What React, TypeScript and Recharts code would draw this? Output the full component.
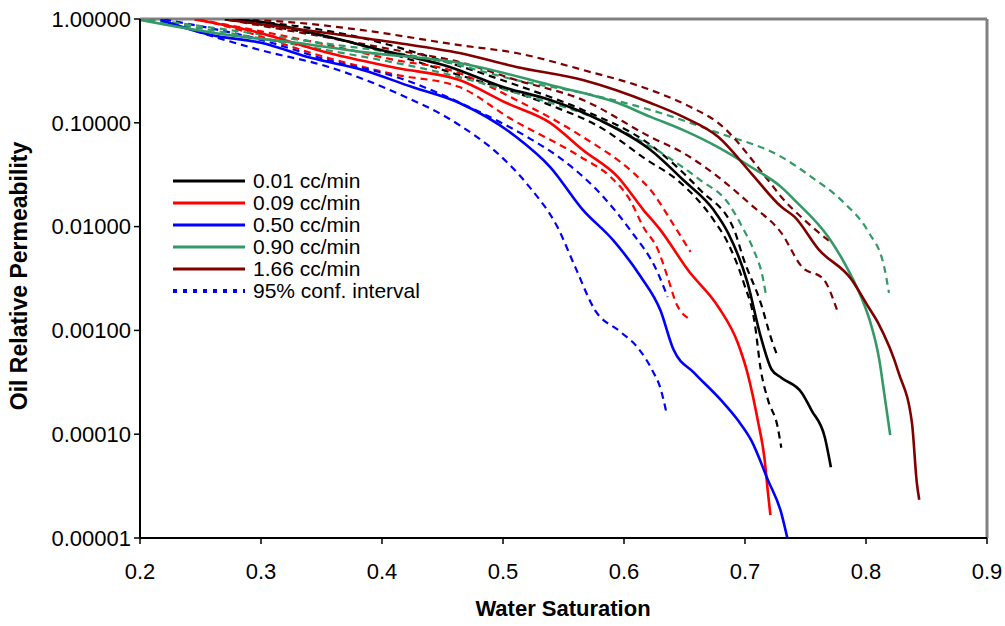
import React from 'react';
import { LineChart, Line, XAxis, YAxis, ReferenceLine, Legend } from 'recharts';

// ---------- axis ticks ----------
const xTicks = [0.2, 0.3, 0.4, 0.5, 0.6, 0.7, 0.8, 0.9];
const yTicks = [1, 0.1, 0.01, 0.001, 0.0001, 0.00001];

// ---------- labels ----------
const rateLabels = ['0.01 cc/min', '0.09 cc/min', '0.50 cc/min', '0.90 cc/min', '1.66 cc/min'];
const ciLabel = '95% conf. interval';
const rateColors = ['#000000', '#FF0000', '#0000FF', '#339966', '#800000'];

// ---------- series: [water saturation, oil relative permeability] ----------
const kr001 = [[0.27, 0.99], [0.30, 0.935], [0.35, 0.70], [0.40, 0.50], [0.456, 0.345], [0.50, 0.221], [0.539, 0.166], [0.58, 0.106], [0.622, 0.0547], [0.649, 0.0281], [0.674, 0.0145], [0.686, 0.0087], [0.702, 0.0029], [0.713, 0.00087], [0.722, 0.00042], [0.730, 0.00035], [0.747, 0.00025], [0.755, 0.00017], [0.766, 0.000093], [0.771, 0.000048]];
const kr001Lo = [[0.276, 0.98], [0.373, 0.60], [0.456, 0.308], [0.539, 0.148], [0.58, 0.091], [0.619, 0.0438], [0.644, 0.0281], [0.674, 0.0116], [0.686, 0.0069], [0.699, 0.00286], [0.708, 0.00118], [0.713, 0.00042], [0.719, 0.000214], [0.727, 0.000117], [0.730, 0.000074]];
const kr001Hi = [[0.276, 1.0], [0.373, 0.70], [0.456, 0.377], [0.511, 0.231], [0.566, 0.133], [0.622, 0.061], [0.663, 0.0225], [0.691, 0.0093], [0.699, 0.0048], [0.713, 0.00184], [0.722, 0.00081], [0.726, 0.0006]];

const kr009 = [[0.245, 0.99], [0.29, 0.78], [0.356, 0.47], [0.412, 0.337], [0.464, 0.258], [0.503, 0.155], [0.539, 0.10], [0.566, 0.0547], [0.595, 0.030], [0.616, 0.0145], [0.630, 0.0093], [0.653, 0.0038], [0.678, 0.00168], [0.694, 0.00076], [0.702, 0.00039], [0.711, 0.000128], [0.716, 0.00006], [0.719, 0.000027], [0.721, 0.0000166]];
const kr009Lo = [[0.25, 0.98], [0.273, 0.84], [0.356, 0.42], [0.412, 0.29], [0.464, 0.221], [0.506, 0.11], [0.564, 0.047], [0.589, 0.030], [0.605, 0.018], [0.616, 0.0099], [0.628, 0.006], [0.636, 0.00327], [0.643, 0.00184], [0.653, 0.00131]];
const kr009Hi = [[0.248, 0.99], [0.356, 0.56], [0.412, 0.40], [0.456, 0.323], [0.511, 0.166], [0.566, 0.073], [0.608, 0.0328], [0.622, 0.0225], [0.641, 0.0104], [0.655, 0.0057]];

const kr050 = [[0.217, 0.98], [0.259, 0.70], [0.30, 0.59], [0.342, 0.42], [0.384, 0.323], [0.425, 0.221], [0.464, 0.155], [0.511, 0.073], [0.539, 0.0375], [0.566, 0.0145], [0.591, 0.0074], [0.614, 0.00327], [0.630, 0.00157], [0.641, 0.00065], [0.658, 0.00039], [0.680, 0.000214], [0.694, 0.000137], [0.705, 0.000088], [0.719, 0.0000361], [0.730, 0.0000174], [0.735, 0.00001]];
const kr050Lo = [[0.217, 0.98], [0.30, 0.50], [0.356, 0.345], [0.412, 0.194], [0.464, 0.095], [0.497, 0.049], [0.522, 0.024], [0.545, 0.0099], [0.56, 0.004], [0.576, 0.00157], [0.597, 0.00097], [0.611, 0.00069], [0.624, 0.0004], [0.63, 0.00028], [0.635, 0.000163]];
const kr050Hi = [[0.22, 0.99], [0.30, 0.63], [0.356, 0.40], [0.412, 0.276], [0.472, 0.142], [0.52, 0.073], [0.547, 0.046], [0.583, 0.0193], [0.605, 0.0093], [0.628, 0.00357], [0.636, 0.0021]];

const kr090 = [[0.20, 0.98], [0.273, 0.70], [0.329, 0.59], [0.384, 0.48], [0.464, 0.377], [0.539, 0.231], [0.595, 0.155], [0.622, 0.114], [0.649, 0.085], [0.678, 0.058], [0.705, 0.0375], [0.730, 0.024], [0.741, 0.018], [0.769, 0.0079], [0.782, 0.0045], [0.796, 0.0021], [0.803, 0.00126], [0.811, 0.00052], [0.815, 0.00025], [0.82, 0.000098]];
const kr090Lo = [[0.207, 0.98], [0.331, 0.56], [0.456, 0.29], [0.511, 0.194], [0.58, 0.106], [0.608, 0.073], [0.636, 0.047], [0.663, 0.0281], [0.686, 0.0169], [0.699, 0.0093], [0.707, 0.006], [0.715, 0.0031], [0.717, 0.0023]];
const kr090Hi = [[0.207, 1.0], [0.331, 0.63], [0.456, 0.377], [0.511, 0.258], [0.566, 0.194], [0.622, 0.133], [0.678, 0.08], [0.73, 0.047], [0.755, 0.03], [0.782, 0.0169], [0.802, 0.0089], [0.815, 0.0041], [0.819, 0.0023]];

const kr166 = [[0.273, 0.98], [0.356, 0.73], [0.412, 0.59], [0.464, 0.47], [0.511, 0.345], [0.566, 0.258], [0.622, 0.155], [0.649, 0.114], [0.678, 0.073], [0.705, 0.0328], [0.730, 0.0155], [0.741, 0.0124], [0.761, 0.006], [0.788, 0.0031], [0.802, 0.00168], [0.81, 0.00118], [0.827, 0.00039], [0.838, 0.000128], [0.842, 0.000034], [0.844, 0.0000234]];
const kr166Lo = [[0.273, 0.98], [0.356, 0.66], [0.412, 0.50], [0.464, 0.385], [0.511, 0.258], [0.566, 0.166], [0.622, 0.073], [0.649, 0.0512], [0.678, 0.03], [0.705, 0.0162], [0.73, 0.0087], [0.747, 0.0041], [0.765, 0.0031], [0.776, 0.00158]];
const kr166Hi = [[0.273, 1.0], [0.323, 0.935], [0.384, 0.78], [0.464, 0.56], [0.511, 0.47], [0.566, 0.323], [0.622, 0.207], [0.655, 0.142], [0.678, 0.0995], [0.719, 0.0281], [0.73, 0.0193], [0.749, 0.0116], [0.772, 0.0069]];

const solidSeries = [kr001, kr009, kr050, kr090, kr166];
const ciSeries = [[kr001Lo, kr001Hi], [kr009Lo, kr009Hi], [kr050Lo, kr050Hi], [kr090Lo, kr090Hi], [kr166Lo, kr166Hi]];

const toPoints = (arr: number[][]) => arr.map(([x, y]) => ({ x, y }));

const FONT = "'Liberation Sans', Arial, Helvetica, sans-serif";

const renderLegend = () => (
  <div style={{ fontFamily: FONT, fontSize: 21, color: '#000', lineHeight: '22px' }}>
    {rateLabels.map((label, i) => (
      <div key={label} style={{ display: 'flex', alignItems: 'center', height: 22 }}>
        <svg width={74} height={10} style={{ display: 'block' }}>
          <line x1={0} y1={5} x2={72} y2={5} stroke={rateColors[i]} strokeWidth={3} />
        </svg>
        <span style={{ marginLeft: 6, whiteSpace: 'nowrap' }}>{label}</span>
      </div>
    ))}
    <div style={{ display: 'flex', alignItems: 'center', height: 22 }}>
      <svg width={74} height={10} style={{ display: 'block' }}>
        <line x1={0} y1={5} x2={72} y2={5} stroke="#0000FF" strokeWidth={4} strokeDasharray="4 6" />
      </svg>
      <span style={{ marginLeft: 6, whiteSpace: 'nowrap' }}>{ciLabel}</span>
    </div>
  </div>
);

export default function App() {
  return (
    <div style={{ width: 1005, height: 626, fontFamily: FONT }}>
      <style>{'html, body { margin: 0; padding: 0; overflow: hidden; }'}</style>
      <LineChart width={1005} height={626} margin={{ top: 19, right: 18, bottom: 58, left: 28 }}>
        <XAxis
          type="number"
          dataKey="x"
          domain={[0.2, 0.9]}
          ticks={xTicks}
          interval={0}
          allowDataOverflow
          height={30}
          tickSize={6}
          tickMargin={19}
          tickFormatter={(v: number) => v.toFixed(1)}
          stroke="#000"
          axisLine={{ stroke: '#000', strokeWidth: 2 }}
          tickLine={{ stroke: '#000', strokeWidth: 1.5 }}
          tick={{ fill: '#000', fontSize: 22, fontFamily: FONT }}
          label={{
            content: () => (
              <text x={563} y={608} textAnchor="middle" dominantBaseline="central" fontFamily={FONT} fontSize={22} fontWeight="bold" fill="#000">
                Water Saturation
              </text>
            ),
          }}
        />
        <YAxis
          type="number"
          dataKey="y"
          scale="log"
          domain={[0.00001, 1]}
          ticks={yTicks}
          interval={0}
          allowDataOverflow
          width={112}
          tickSize={6}
          tickMargin={3}
          tickFormatter={(v: number) => v.toFixed(5)}
          axisLine={{ stroke: '#000', strokeWidth: 2 }}
          tickLine={{ stroke: '#000', strokeWidth: 1.5 }}
          tick={{ fill: '#000', fontSize: 22, fontFamily: FONT }}
          label={{
            content: () => (
              <text x={19} y={276} textAnchor="middle" dominantBaseline="central" transform="rotate(-90, 19, 276)" fontFamily={FONT} fontSize={23} fontWeight="bold" fill="#000">
                Oil Relative Permeability
              </text>
            ),
          }}
        />
        <ReferenceLine y={1} stroke="#808080" strokeWidth={3} ifOverflow="extendDomain" />
        <ReferenceLine x={0.9} stroke="#808080" strokeWidth={3} ifOverflow="extendDomain" />
        {ciSeries.map((pair, i) =>
          pair.map((arr, j) => (
            <Line
              key={`ci-${i}-${j}`}
              data={toPoints(arr)}
              dataKey="y"
              type="monotone"
              stroke={rateColors[i]}
              strokeWidth={2.2}
              strokeDasharray="7 5"
              dot={false}
              activeDot={false}
              isAnimationActive={false}
              legendType="none"
            />
          ))
        )}
        {solidSeries.map((arr, i) => (
          <Line
            key={`s-${i}`}
            data={toPoints(arr)}
            dataKey="y"
            name={rateLabels[i]}
            type="monotone"
            stroke={rateColors[i]}
            strokeWidth={2.6}
            dot={false}
            activeDot={false}
            isAnimationActive={false}
          />
        ))}
        <Legend
          layout="vertical"
          align="center"
          verticalAlign="middle"
          content={renderLegend}
          wrapperStyle={{ left: 173, top: 170, width: 'auto', height: 'auto' }}
        />
      </LineChart>
    </div>
  );
}
